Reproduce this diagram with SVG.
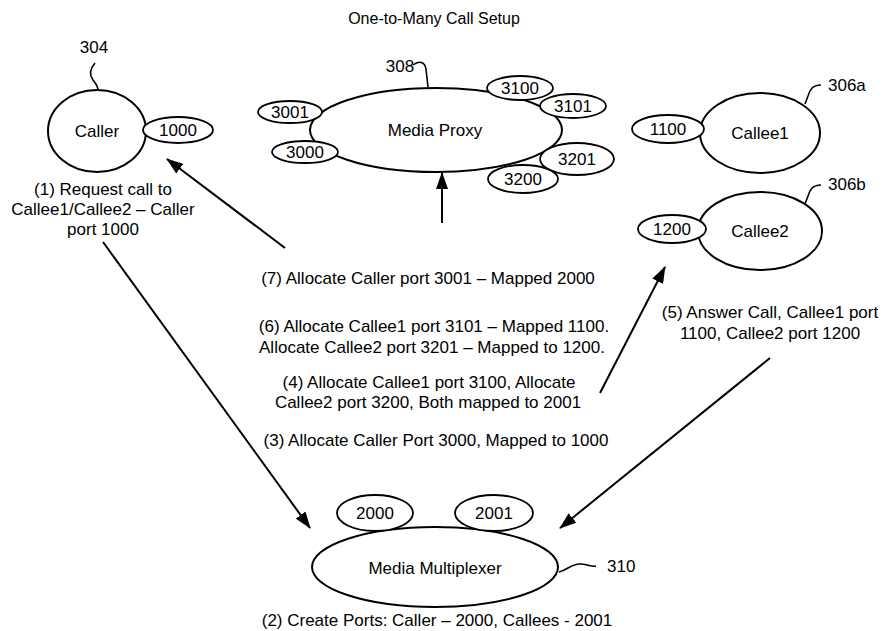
<svg xmlns="http://www.w3.org/2000/svg" width="883" height="631" viewBox="0 0 883 631">
<defs>
<style>
text{font-family:"Liberation Sans",Arial,sans-serif;font-size:17px;fill:#000;text-anchor:middle}
.title{font-size:16px}
.st{text-anchor:start}
.big{fill:#fff;stroke:#000;stroke-width:2}
.port{fill:#fff;stroke:#000;stroke-width:1.8}
.lead{fill:none;stroke:#000;stroke-width:1.6}
.conn{fill:none;stroke:#000;stroke-width:2;marker-end:url(#ah)}
</style>
<marker id="ah" markerUnits="userSpaceOnUse" markerWidth="17" markerHeight="12" refX="16" refY="6" orient="auto">
<path d="M0,0 L17,6 L0,12 Z" fill="#000"/>
</marker>
</defs>
<rect width="883" height="631" fill="#fff"/>
<text class="title" x="434" y="24">One-to-Many Call Setup</text>

<g id="caller">
<ellipse class="big" cx="97" cy="131" rx="49" ry="41"/>
<text x="97" y="137">Caller</text>
<ellipse class="port" cx="178" cy="130" rx="35" ry="13"/>
<text x="178" y="136">1000</text>
<text x="94" y="53">304</text>
<path class="lead" d="M95,63 C89,70 90,76 93,80 S98,86 98,90"/>
<text x="103" y="195">(1) Request call to</text>
<text x="103" y="215">Callee1/Callee2 – Caller</text>
<text x="103" y="235">port 1000</text>
</g>

<g id="media-proxy">
<ellipse class="big" cx="436" cy="130" rx="126" ry="42"/>
<text x="435" y="136">Media Proxy</text>
<text x="400" y="72">308</text>
<path class="lead" d="M413,65 C419,60 425,62 426,69 L428,87"/>
<ellipse class="port" cx="290" cy="112" rx="32" ry="11"/>
<text x="290" y="118">3001</text>
<ellipse class="port" cx="305" cy="152" rx="33" ry="11"/>
<text x="305" y="158">3000</text>
<ellipse class="port" cx="520" cy="88" rx="33" ry="12"/>
<text x="520" y="94">3100</text>
<ellipse class="port" cx="573" cy="106" rx="33" ry="12"/>
<text x="573" y="112">3101</text>
<ellipse class="port" cx="577" cy="159" rx="37" ry="16"/>
<text x="577" y="165">3201</text>
<ellipse class="port" cx="523" cy="179" rx="35" ry="14"/>
<text x="523" y="185">3200</text>
</g>

<g id="callee1">
<ellipse class="big" cx="760" cy="133" rx="60" ry="40"/>
<text x="760" y="139">Callee1</text>
<ellipse class="port" cx="668" cy="129" rx="36" ry="14"/>
<text x="668" y="135">1100</text>
<text class="st" x="828" y="91">306a</text>
<path class="lead" d="M821,85 C812,85 810,90 808,96 L805,104"/>
</g>

<g id="callee2">
<ellipse class="big" cx="760" cy="231" rx="62" ry="39"/>
<text x="760" y="237">Callee2</text>
<ellipse class="port" cx="672" cy="229" rx="34" ry="14"/>
<text x="672" y="235">1200</text>
<text class="st" x="828" y="190">306b</text>
<path class="lead" d="M821,185 C812,185 810,190 808,196 L805,204"/>
</g>

<g id="media-multiplexer">
<ellipse class="big" cx="435" cy="567" rx="123" ry="40"/>
<text x="435" y="574">Media Multiplexer</text>
<ellipse class="port" cx="375" cy="513" rx="38" ry="18"/>
<text x="375" y="519">2000</text>
<ellipse class="port" cx="494" cy="513" rx="39" ry="18"/>
<text x="494" y="519">2001</text>
<text class="st" x="607" y="572">310</text>
<path class="lead" d="M559,572 C568,570 572,563 581,564 S591,567 596,566"/>
<text x="437" y="626">(2) Create Ports: Caller – 2000, Callees - 2001</text>
</g>

<g id="labels">
<text x="428" y="284">(7) Allocate Caller port 3001 – Mapped 2000</text>
<text x="434" y="332">(6) Allocate Callee1 port 3101 – Mapped 1100.</text>
<text x="432" y="353">Allocate Callee2 port 3201 – Mapped to 1200.</text>
<text x="429" y="388">(4) Allocate Callee1 port 3100, Allocate</text>
<text x="428" y="408">Callee2 port 3200, Both mapped to 2001</text>
<text x="436" y="446">(3) Allocate Caller Port 3000, Mapped to 1000</text>
<text x="770" y="318">(5) Answer Call, Callee1 port</text>
<text x="770" y="339">1100, Callee2 port 1200</text>
</g>

<g id="connectors">
<path class="conn" d="M103,242 L310,528"/>
<path class="conn" d="M285,248 L167,159"/>
<path class="conn" d="M442,223 L442,173"/>
<path class="conn" d="M600,393 L665,267"/>
<path class="conn" d="M770,358 L560,528"/>
</g>
</svg>
